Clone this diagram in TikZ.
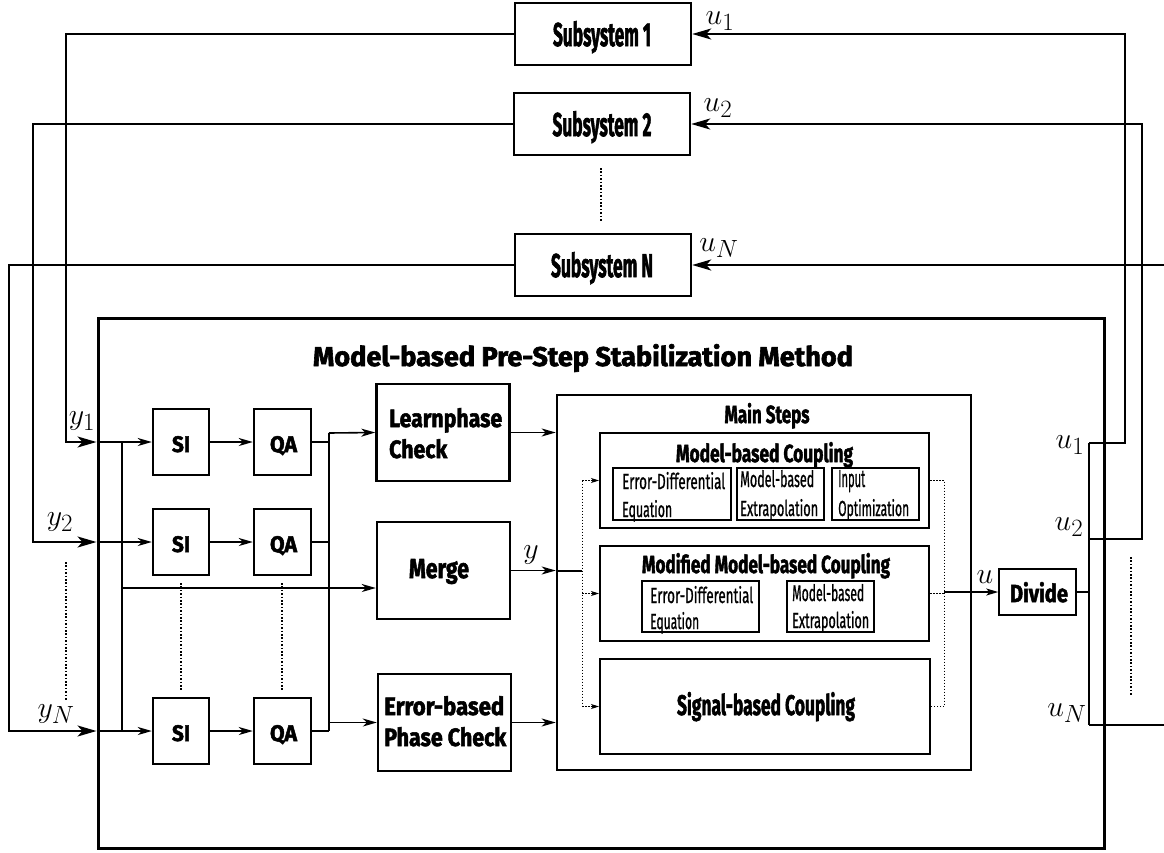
\documentclass[tikz,border=0pt]{standalone}
\usepackage{fontspec}
\setmainfont{Fira Sans}[UprightFeatures={FakeBold=1.2},BoldFeatures={FakeBold=2.2}]
\usepackage{graphicx}
\usetikzlibrary{arrows.meta,calc}

% condensed labels: width and height of the lettering given in pt
\newcommand\bt[3]{\resizebox{#1pt}{#2pt}{\bfseries #3}}
\newcommand\rt[3]{\resizebox{#1pt}{#2pt}{#3}}
\newcommand\ml[1]{\scalebox{1.2}{\fontsize{24.88}{25}\selectfont$#1$}}

\begin{document}
\begin{tikzpicture}[x=1pt,y=-1pt,
  sz/.style 2 args={minimum width=#1pt,minimum height=#2pt},
  sysblk/.style={draw,line width=2.4pt,inner sep=0pt},
  blk/.style={draw,line width=2.4pt,inner sep=0pt},
  outer/.style={draw,line width=3pt,inner sep=0pt},
  mainblk/.style={draw,line width=2.6pt,inner sep=0pt},
  cpl/.style={draw,line width=2pt,inner sep=0pt},
  subblk/.style={draw,line width=1.2pt,inner sep=0pt},
  divblk/.style={draw,line width=1.5pt,inner sep=0pt},
  txt/.style={inner sep=0pt},
  ext/.style={line width=2.2pt},
  extarr/.style={ext,-{Stealth[length=19pt,width=11pt,inset=5pt]}},
  int/.style={line width=1.6pt},
  intarr/.style={int,-{Stealth[length=14pt,width=8pt,inset=4pt]}},
  dotline/.style={line width=1.6pt,dash pattern=on 1.6pt off 1.8pt},
  fine/.style={line width=1pt,dash pattern=on 1.5pt off 1.5pt},
  finearr/.style={fine,-{Stealth[length=8pt,width=5pt,inset=2pt]}},
  mathlbl/.style={inner sep=0pt},
]
\useasboundingbox (0,0) rectangle (1164,852);

% subsystems
\node[sysblk,sz={176}{62}] (sub1) at (603,34) {};
\node[sysblk,sz={176}{62}] (sub2) at (602,124) {};
\node[sysblk,sz={176}{62}] (subN) at (603,265) {};
\node[txt,anchor=base] at (602,46) {\bt{98}{25}{Subsystem 1}};
\node[txt,anchor=base] at (602,136) {\bt{99}{25}{Subsystem 2}};
\node[txt,anchor=base] at (602,277) {\bt{102}{25}{Subsystem N}};
\draw[dotline] (601,168) -- (601,221);

% method frame
\node[outer,sz={1006}{530}] (meth) at (601,583) {};
\node[txt,anchor=base] at (583,366) {\bt{540}{22}{Model-based Pre-Step Stabilization Method}};

% identification and assessment chains
\foreach \n/\yy in {1/442,2/542,N/731}{
  \node[blk,sz={56}{66}] (si\n) at (181,\yy) {};
  \node[blk,sz={57}{66}] (qa\n) at (282.5,\yy) {};
  \node[txt,anchor=base] at (181,\yy+10) {\bt{18}{16}{SI}};
  \node[txt,anchor=base] at (283.5,\yy+10) {\bt{27}{16}{QA}};
}
\draw[dotline] (181,583) -- (181,690);
\draw[dotline] (282,583) -- (282,690);

% checks and merge
\node[blk,sz={133}{97}] (learn) at (443,432.5) {};
\node[blk,sz={133}{97}] (merge) at (443.5,570.5) {};
\node[blk,sz={133}{97}] (errb) at (444.5,722.5) {};
\node[txt,anchor=base west] at (389,427) {\bt{113}{19}{Learnphase}};
\node[txt,anchor=base west] at (389,458) {\bt{58}{19}{Check}};
\node[txt,anchor=base] at (439,578) {\bt{60}{19}{Merge}};
\node[txt,anchor=base west] at (384,715) {\bt{120}{19}{Error-based}};
\node[txt,anchor=base west] at (384,746) {\bt{122}{19}{Phase Check}};

% main steps
\node[mainblk,sz={414}{375}] (main) at (764,582.5) {};
\node[txt,anchor=base] at (767,423) {\bt{85}{20}{Main Steps}};

\node[cpl,sz={329}{95}] (mbc) at (764.5,480.5) {};
\node[txt,anchor=base] at (764.5,462) {\bt{177}{20}{Model-based Coupling}};
\node[subblk,sz={118}{52}] (ed1) at (672,494) {};
\node[subblk,sz={87}{52}] (mbe1) at (780.5,494) {};
\node[subblk,sz={87}{52}] (io) at (875.5,494) {};
\node[txt,anchor=base west] at (622,489) {\rt{103}{17}{Error-Differential}};
\node[txt,anchor=base west] at (622,517) {\rt{50}{17}{Equation}};
\node[txt,anchor=base west] at (740,487) {\rt{74}{17}{Model-based}};
\node[txt,anchor=base west] at (740,516) {\rt{78}{17}{Extrapolation}};
\node[txt,anchor=base west] at (838,487) {\rt{27}{17}{Input}};
\node[txt,anchor=base west] at (838,516) {\rt{71}{17}{Optimization}};

\node[cpl,sz={329}{95}] (mmbc) at (764.5,593.5) {};
\node[txt,anchor=base] at (766,573) {\bt{248}{20}{Modified Model-based Coupling}};
\node[subblk,sz={117}{51}] (ed2) at (700.5,606.5) {};
\node[subblk,sz={87}{51}] (mbe2) at (830.5,606.5) {};
\node[txt,anchor=base west] at (650,603) {\rt{103}{17}{Error-Differential}};
\node[txt,anchor=base west] at (650,629) {\rt{49}{17}{Equation}};
\node[txt,anchor=base west] at (792,601) {\rt{72}{17}{Model-based}};
\node[txt,anchor=base west] at (792,628) {\rt{77}{17}{Extrapolation}};

\node[cpl,sz={330}{95}] (sbc) at (765,706.5) {};
\node[txt,anchor=base] at (766,715) {\bt{178}{23}{Signal-based Coupling}};

% divide
\node[divblk,sz={77}{46}] (divide) at (1037.5,592) {};
\node[txt,anchor=base] at (1039,602) {\bt{58}{20}{Divide}};

% subsystem outputs into the method
\draw[extarr] (sub1.west) -- (66,34) |- (meth.west |- si1);
\draw[extarr] (sub2.west) -- (33,124) |- (meth.west |- si2);
\draw[extarr] (subN.west) -- (9,265) |- (meth.west |- siN);
\draw[dotline] (66,562) -- (66,700);
\node[mathlbl] (ly1) at (82,421) {\ml{y_1}};
\node[mathlbl] (ly2) at (60,522) {\ml{y_2}};
\node[mathlbl] (lyN) at (56,714) {\ml{y_N}};

% signal distribution
\foreach \n in {1,2,N}{
  \draw[intarr] (meth.west |- si\n) -- (si\n.west);
  \draw[intarr] (si\n) -- (qa\n);
  \draw[int] (qa\n.east) -- (329,0 |- qa\n);
}
\coordinate (bus) at (122,442);
\draw[int] (bus) -- (bus |- siN);
\draw[intarr] (bus |- 0,588) -- (merge.west |- 0,588);
\coordinate (jq) at (329,433);
\draw[int] (jq) -- (jq |- qaN);
\draw[intarr] (jq) -- (learn.west);
\draw[intarr] (jq |- errb.west) -- (errb.west);

% into the main steps
\draw[intarr] (learn.east) -- (main.west |- learn.east);
\draw[intarr] (merge.east) -- (main.west |- merge.east);
\draw[intarr] (errb.east) -- (main.west |- errb.east);
\node[mathlbl] (ly) at (531,555) {\ml{y}};
\coordinate (dl) at (582,571);
\draw[int] (main.west |- dl) -- (dl);
\draw[fine] (582,480.5) -- (582,706.5);
\draw[finearr] (582,480.5) -- (mbc.west);
\draw[finearr] (582,593.5) -- (mmbc.west);
\draw[finearr] (582,706.5) -- (sbc.west);
\draw[fine] (mbc.east) -- (944,480.5) -- (944,706.5) -- (sbc.east);
\draw[fine] (mmbc.east) -- (944,593.5);
\draw[int,-{Stealth[length=12pt,width=7pt,inset=3pt]}] (944,592) -- (divide.west);
\node[mathlbl] (lu) at (985,577) {\ml{u}};

% distribution back to the subsystems
\coordinate (db) at (1089,592);
\draw[line width=1.5pt] (divide.east) -- (db);
\draw[line width=1.5pt] (1089,443) -- (1089,725);
\draw[extarr] (1089,443) -- (1125,443) -- (1125,34) -- (sub1.east);
\draw[extarr] (1089,539) -- (1142,539) -- (1142,124) -- (sub2.east);
\coordinate (uNout) at (1172,725);
\coordinate (uNin) at (1172,265);
\draw[ext] (1089,725) -- (uNout);
\draw[extarr] (uNin) -- (subN.east);
\draw[dotline] (1131,557) -- (1131,695);
\node[mathlbl] (lu1) at (1070,445) {\ml{u_1}};
\node[mathlbl] (lu2) at (1069,527) {\ml{u_2}};
\node[mathlbl] (luN) at (1067,713) {\ml{u_N}};
\node[mathlbl] (tu1) at (720,21) {\ml{u_1}};
\node[mathlbl] (tu2) at (718,108) {\ml{u_2}};
\node[mathlbl] (tuN) at (719,248) {\ml{u_N}};
\end{tikzpicture}
\end{document}
